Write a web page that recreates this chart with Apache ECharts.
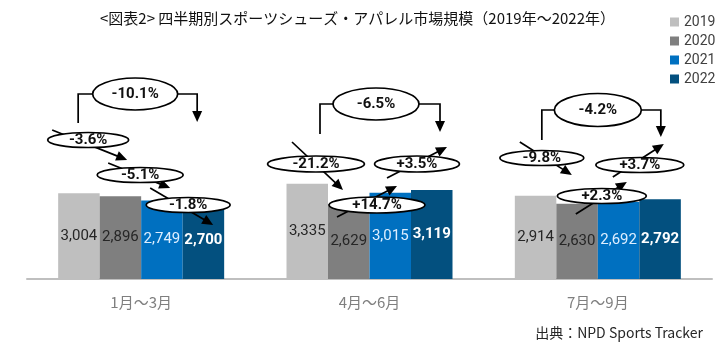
<!DOCTYPE html>
<html>
<head>
<meta charset="utf-8">
<script src="https://cdn.jsdelivr.net/npm/echarts@6/dist/echarts.min.js"></script>
<style>
html,body{margin:0;padding:0;background:#fff;}
#chart{width:715px;height:344px;}
</style>
</head>
<body>
<div id="chart"></div>
<script>
// ---- data ----
const categories = ['1月～3月', '4月～6月', '7月～9月'];
const years = ['2019', '2020', '2021', '2022'];
const v2019 = [3004, 3335, 2914];
const v2020 = [2896, 2629, 2630];
const v2021 = [2749, 3015, 2692];
const v2022 = [2700, 3119, 2792];
const pctTotal = ['-10.1%', '-6.5%', '-4.2%'];   // 2019 -> 2022
const pctStep1 = ['-3.6%', '-21.2%', '-9.8%'];   // 2019 -> 2020
const pctStep2 = ['-5.1%', '+14.7%', '+2.3%'];   // 2020 -> 2021
const pctStep3 = ['-1.8%', '+3.5%', '+3.7%'];    // 2021 -> 2022

// ---- layout of annotations (offsets relative to group center x, and px above baseline) ----
const bracketLayout = [
  {xl: -63, xr: 56, top: 185, lb: 156, tip: 157, ex: -6, rx: 42.5, ry: 16},
  {xl: -49.5, xr: 70.5, top: 175, lb: 145, tip: 147, ex: 6.5, rx: 43, ry: 16},
  {xl: -56, xr: 63, top: 169, lb: 139, tip: 142, ex: 0, rx: 43.5, ry: 16.5}
];
const stepLayout = [
  [ {ex: -53, ey: 139, rx: 40.5, ry: 7.5, a: [-89, 149, -14, 119]},
    {ex: -1, ey: 104, rx: 43, ry: 7.5, a: [-33, 116, 29, 91]},
    {ex: 47, ey: 74, rx: 42, ry: 7.5, a: [9, 91, 72, 54]} ],
  [ {ex: -53.5, ey: 115, rx: 48.5, ry: 8, a: [-77.5, 137, -26.5, 89]},
    {ex: 7.5, ey: 74, rx: 48, ry: 8, a: [-32.5, 62, 27.5, 93]},
    {ex: 47.5, ey: 115, rx: 42.5, ry: 8, a: [17.5, 101, 77.5, 132]} ],
  [ {ex: -56, ey: 121, rx: 42, ry: 7.5, a: [-78, 137, -26, 104]},
    {ex: 4, ey: 83, rx: 44.5, ry: 7.5, a: [-22, 65, 29, 97]},
    {ex: 42, ey: 114, rx: 44, ry: 7.5, a: [15, 102, 66, 135]} ]
];

const colors = ['#BFBFBF', '#7F7F7F', '#0070C0', '#03507F'];
const labelColors = ['#262626', '#262626', '#DDEEFF', '#FFFFFF'];
const seriesValues = [v2019, v2020, v2021, v2022];

const chart = echarts.init(document.getElementById('chart'), null, {renderer: 'canvas'});

const option = {
  animation: false,
  backgroundColor: '#fff',
  title: {
    text: '<図表2> 四半期別スポーツシューズ・アパレル市場規模（2019年～2022年）',
    left: 'center',
    top: 11,
    padding: 0,
    textStyle: {fontFamily: 'Noto Sans CJK JP', fontSize: 15, fontWeight: 'normal', color: '#111'}
  },
  legend: {
    orient: 'vertical',
    left: 665,
    top: 10,
    itemWidth: 9,
    itemHeight: 9,
    itemGap: 5,
    icon: 'rect',
    data: years,
    textStyle: {fontFamily: 'Roboto', fontSize: 14, color: '#404040', lineHeight: 14}
  },
  grid: {left: 27, right: 3, top: 4, bottom: 65, containLabel: false},
  xAxis: {
    type: 'category',
    data: categories,
    axisLine: {lineStyle: {color: '#BFBFBF', width: 2}},
    axisTick: {show: false},
    axisLabel: {fontFamily: 'Noto Sans CJK JP', fontSize: 15, color: '#7F7F7F', margin: 16}
  },
  yAxis: {
    type: 'value',
    min: 0,
    max: 9625,
    show: false,
    splitLine: {show: false}
  },
  series: years.map((y, i) => ({
    name: y,
    type: 'bar',
    data: seriesValues[i],
    barWidth: 41.5,
    barGap: '0%',
    itemStyle: {color: colors[i]},
    label: {
      show: true,
      position: 'inside',
      fontFamily: 'Roboto',
      fontSize: 15,
      fontWeight: i === 3 ? 'bold' : 'normal',
      color: labelColors[i],
      formatter: p => p.value.toLocaleString('en-US')
    }
  })),
  graphic: []
};
chart.setOption(option);

// ---- annotations ----
function arrow(x1, y1, x2, y2, els) {
  const dx = x2 - x1, dy = y2 - y1, len = Math.hypot(dx, dy);
  const ux = dx / len, uy = dy / len, nx = -uy, ny = ux;
  const L = 11, W = 5;
  els.push({type: 'line', z: 100, z2: 1, silent: true,
    shape: {x1: x1, y1: y1, x2: x2 - ux * L * 0.7, y2: y2 - uy * L * 0.7},
    style: {stroke: '#000', lineWidth: 1.7}});
  els.push({type: 'polygon', z: 100, z2: 1, silent: true,
    shape: {points: [[x2, y2], [x2 - ux * L + nx * W, y2 - uy * L + ny * W], [x2 - ux * L - nx * W, y2 - uy * L - ny * W]]},
    style: {fill: '#000'}});
}
function bubble(cx, cy, rx, ry, text, els) {
  els.push({type: 'ellipse', z: 110, z2: 5, silent: true,
    shape: {cx: cx, cy: cy, rx: rx, ry: ry},
    style: {fill: '#fff', stroke: '#000', lineWidth: 1.7}});
  els.push({type: 'text', z: 120, z2: 10, silent: true,
    style: {text: text, x: cx, y: cy + 0.5, textAlign: 'center', textVerticalAlign: 'middle', verticalAlign: 'middle',
      font: 'bold 15px Roboto', fill: '#111'}});
}

function drawAnnotations() {
  const lines = [];
  const bubbles = [];
  const base = chart.convertToPixel({yAxisIndex: 0}, 0);
  categories.forEach((c, g) => {
    const gx = chart.convertToPixel({xAxisIndex: 0}, c);
    const b = bracketLayout[g];
    const yTop = base - b.top;
    lines.push({type: 'polyline', z: 100, z2: 1, silent: true,
      shape: {points: [[gx + b.xl, base - b.lb], [gx + b.xl, yTop], [gx + b.xr, yTop], [gx + b.xr, base - b.tip - 7]]},
      style: {stroke: '#000', lineWidth: 1.7, fill: null}});
    arrow(gx + b.xr, base - b.tip - 9, gx + b.xr, base - b.tip, lines);
    bubble(gx + b.ex, yTop, b.rx, b.ry, pctTotal[g], bubbles);
    const steps = [pctStep1[g], pctStep2[g], pctStep3[g]];
    stepLayout[g].forEach((s, k) => {
      arrow(gx + s.a[0], base - s.a[1], gx + s.a[2], base - s.a[3], lines);
      bubble(gx + s.ex, base - s.ey, s.rx, s.ry, steps[k], bubbles);
    });
  });
  const els = lines.concat(bubbles);
  els.push({type: 'text', z: 120, silent: true, right: 12, top: 326,
    style: {text: '出典：NPD Sports Tracker', font: '14px "Noto Sans CJK JP"', fill: '#262626'}});
  chart.setOption({graphic: els});
}
drawAnnotations();
</script>
</body>
</html>
